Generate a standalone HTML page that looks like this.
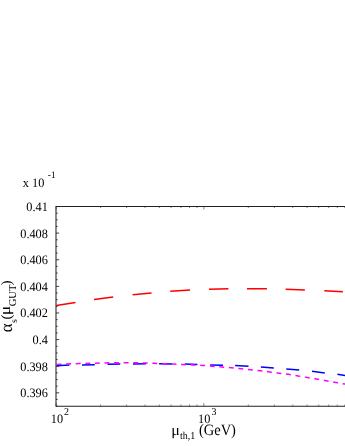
<!DOCTYPE html>
<html><head><meta charset="utf-8"><title>plot</title>
<style>html,body{margin:0;padding:0;background:#fff;}body{width:345px;height:446px;overflow:hidden;font-family:"Liberation Serif",serif;}</style>
</head><body>
<svg width="345" height="446" viewBox="0 0 345 446" style="display:block;will-change:transform">
<rect width="345" height="446" fill="#fff"/>
<path d="M56.40,305.40 L75.50,302.50 M94.00,299.60 L113.20,297.00 M132.60,294.70 L151.50,293.00 M170.20,291.15 L190.10,289.90 M209.00,289.15 L228.40,288.65 M247.00,288.75 L266.90,288.85 M285.65,289.15 L304.90,289.90 M324.30,290.65 L342.90,291.80" fill="none" stroke="#ff0000" stroke-width="1.5"/>
<path d="M56.60,365.70 L69.40,365.10 M82.00,364.90 L94.75,364.70 M107.50,364.20 L120.30,364.00 M133.00,363.90 L146.10,363.80 M159.10,363.80 L172.10,363.90 M184.70,364.10 L197.40,364.40 M210.10,364.90 L223.00,365.20 M235.10,365.55 L248.50,366.25 M260.90,367.00 L273.80,368.00 M286.30,369.00 L299.20,370.05 M312.00,371.35 L324.80,372.90 M337.40,374.30 L350.00,376.20" fill="none" stroke="#0000ff" stroke-width="1.5"/>
<path d="M56.60,364.40 L61.00,364.20 L66.00,364.00 L80.00,363.50 L100.00,363.10 L109.00,362.80 L128.00,362.70 L138.00,362.80 L147.80,363.00 L154.60,363.30 L164.40,363.70 L174.00,364.00 L183.60,364.60 L193.40,364.90 L202.50,365.40 L212.20,366.20 L221.70,366.90 L231.40,367.80 L241.00,368.80 L250.60,369.80 L260.00,370.75 L269.60,371.90 L279.20,373.15 L288.60,374.35 L298.20,376.05 L307.50,377.55 L316.80,379.10 L326.10,380.70 L335.60,382.45 L345.00,384.05 L355.00,385.80" fill="none" stroke="#ff00ff" stroke-width="1.5" stroke-dasharray="4.9 4.68"/>
<path d="M350,206.5 L56.0,206.5 L56.0,406.15 L350,406.15" fill="none" stroke="#222" stroke-width="1.05"/>
<path d="M56.0,406.15 h1.65 M56.0,399.49 h1.65 M56.0,392.84 h3.2 M56.0,386.18 h1.65 M56.0,379.53 h1.65 M56.0,372.87 h1.65 M56.0,366.22 h3.2 M56.0,359.56 h1.65 M56.0,352.91 h1.65 M56.0,346.25 h1.65 M56.0,339.60 h3.2 M56.0,332.94 h1.65 M56.0,326.29 h1.65 M56.0,319.63 h1.65 M56.0,312.98 h3.2 M56.0,306.32 h1.65 M56.0,299.67 h1.65 M56.0,293.01 h1.65 M56.0,286.36 h3.2 M56.0,279.70 h1.65 M56.0,273.05 h1.65 M56.0,266.39 h1.65 M56.0,259.74 h3.2 M56.0,253.08 h1.65 M56.0,246.43 h1.65 M56.0,239.77 h1.65 M56.0,233.12 h3.2 M56.0,226.46 h1.65 M56.0,219.81 h1.65 M56.0,213.15 h1.65 M56.0,206.50 h3.2" fill="none" stroke="#222" stroke-width="0.85"/>
<path d="M56.15,406.15 v-3.0 M56.15,206.5 v3.0 M100.61,406.15 v-1.55 M100.61,206.5 v1.55 M126.62,406.15 v-1.55 M126.62,206.5 v1.55 M145.07,406.15 v-1.55 M145.07,206.5 v1.55 M159.39,406.15 v-1.55 M159.39,206.5 v1.55 M171.08,406.15 v-1.55 M171.08,206.5 v1.55 M180.97,406.15 v-1.55 M180.97,206.5 v1.55 M189.54,406.15 v-1.55 M189.54,206.5 v1.55 M197.09,406.15 v-1.55 M197.09,206.5 v1.55 M203.85,406.15 v-3.0 M203.85,206.5 v3.0 M248.31,406.15 v-1.55 M248.31,206.5 v1.55 M274.32,406.15 v-1.55 M274.32,206.5 v1.55 M292.77,406.15 v-1.55 M292.77,206.5 v1.55 M307.09,406.15 v-1.55 M307.09,206.5 v1.55 M318.78,406.15 v-1.55 M318.78,206.5 v1.55 M328.67,406.15 v-1.55 M328.67,206.5 v1.55 M337.24,406.15 v-1.55 M337.24,206.5 v1.55 M344.79,406.15 v-1.55 M344.79,206.5 v1.55" fill="none" stroke="#333" stroke-width="0.62"/>
<g font-family="Liberation Serif, serif" fill="#000" style="text-rendering:geometricPrecision">
<text transform="translate(47.90,210.90) scale(1.0,1.05)" font-size="12.3" text-anchor="end">0.41</text>
<text transform="translate(47.90,237.52) scale(1.0,1.05)" font-size="12.3" text-anchor="end">0.408</text>
<text transform="translate(47.90,264.14) scale(1.0,1.05)" font-size="12.3" text-anchor="end">0.406</text>
<text transform="translate(47.90,290.76) scale(1.0,1.05)" font-size="12.3" text-anchor="end">0.404</text>
<text transform="translate(47.90,317.38) scale(1.0,1.05)" font-size="12.3" text-anchor="end">0.402</text>
<text transform="translate(47.90,344.00) scale(1.0,1.05)" font-size="12.3" text-anchor="end">0.4</text>
<text transform="translate(47.90,370.62) scale(1.0,1.05)" font-size="12.3" text-anchor="end">0.398</text>
<text transform="translate(47.90,397.24) scale(1.0,1.05)" font-size="12.3" text-anchor="end">0.396</text>
<text transform="translate(22.80,186.70) scale(1.0,1.05)" font-size="12.3" text-anchor="start">x 10</text>
<text transform="translate(47.80,178.40) scale(1.0,1.05)" font-size="9.5" text-anchor="start">-1</text>
<text transform="translate(50.80,422.90) scale(1.0,1.05)" font-size="12.3" text-anchor="start">10</text>
<text transform="translate(63.90,415.30) scale(1.0,1.05)" font-size="10" text-anchor="start">2</text>
<text transform="translate(198.00,422.90) scale(1.0,1.05)" font-size="12.3" text-anchor="start">10</text>
<text transform="translate(211.50,414.80) scale(1.0,1.05)" font-size="10" text-anchor="start">3</text>
<text transform="translate(171.20,435.20) scale(1.0,0.96)" font-size="16" text-anchor="start">μ</text>
<text transform="translate(180.00,439.30) scale(1.0,1.05)" font-size="10" text-anchor="start">th,1</text>
<text transform="translate(198.90,435.35) scale(1.0,1.09)" font-size="14.5" text-anchor="start">(GeV)</text>
<text transform="translate(11.75,332.30) scale(1.1,1.05) rotate(-90)" font-size="16">α</text>
<text transform="translate(17.00,323.00) scale(1.0,1.05) rotate(-90)" font-size="9.5">s</text>
<text transform="translate(10.80,319.40) scale(1.0,1.05) rotate(-90)" font-size="14.5">(</text>
<text transform="translate(10.30,315.20) scale(0.95,1.11) rotate(-90)" font-size="16">μ</text>
<text transform="translate(16.25,306.30) scale(1.0,1.0) rotate(-90)" font-size="10.6">GUT</text>
<text transform="translate(10.60,285.60) scale(1.0,1.05) rotate(-90)" font-size="14.5">)</text>
</g>
</svg>
</body></html>
